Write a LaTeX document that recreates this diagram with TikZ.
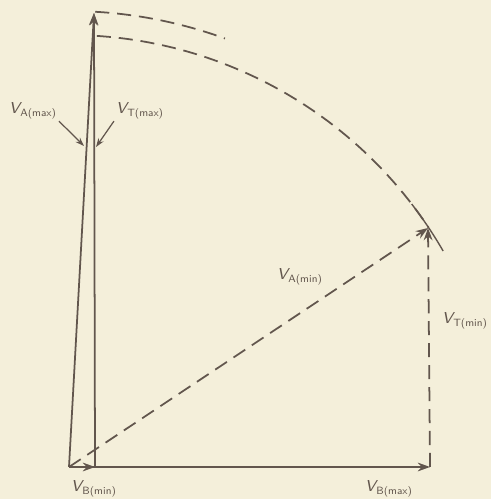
\documentclass[tikz,border=0pt]{standalone}
\usetikzlibrary{arrows.meta}
\definecolor{paper}{HTML}{F4EFDA}
\definecolor{ink}{HTML}{62564D}
\tikzset{
  vec/.style={draw=ink, line width=1pt, -{Stealth[length=7pt,width=5pt]}},
  dashvec/.style={vec, dash pattern=on 8pt off 4.5pt},
  dasharc/.style={draw=ink, line width=1pt, dash pattern=on 8pt off 4.5pt},
  lab/.style={text=ink, font=\sffamily\small, inner sep=1pt},
  leader/.style={draw=ink, line width=0.7pt, -{Stealth[length=5pt,width=3.5pt]}}
}
\newcommand{\vname}[1]{\textit{V}\kern-1pt\textsubscript{#1}}
\begin{document}
\begin{tikzpicture}[x=0.02cm, y=0.02cm]
  \fill[paper] (0,0) rectangle (491,499);
  \useasboundingbox (0,0) rectangle (491,499);
  % Punkte
  \coordinate (O) at (69,32);
  \coordinate (Bmin) at (95,32);
  \coordinate (Bmax) at (430,32);
  \coordinate (Ttop) at (94,486);
  \coordinate (Tmin) at (428,271);
  \coordinate (hitA) at (84,353);
  \coordinate (hitT) at (96,352);

  % Kreisboegen um O
  \draw[dasharc] (O) ++(86.7:456) arc[start angle=86.7, end angle=70, radius=456];
  \draw[dasharc] (O) ++(86.3:432) arc[start angle=86.3, end angle=33.7, radius=432];
  \draw[draw=ink, line width=0.8pt] (O) ++(37.5:432) arc[start angle=37.5, end angle=30, radius=432];

  % Vektoren
  \draw[vec] (O) -- (Bmax);
  \draw[vec] (O) -- (Bmin);
  \draw[vec] (O) -- (Ttop);
  \draw[vec] (Bmin) -- (Ttop);
  \draw[dashvec] (O) -- (Tmin);
  \draw[dashvec] (Bmax) -- (Tmin);

  % Beschriftungen
  \node[lab] (VAmax) at (33,388) {\vname{A(max)}};
  \node[lab] (VTmax) at (140,388) {\vname{T(max)}};
  \node[lab] (VAmin) at (300,222) {\vname{A(min)}};
  \node[lab, anchor=east] (VTmin) at (490,178) {\vname{T(min)}};
  \node[lab] (VBmin) at (94,10) {\vname{B(min)}};
  \node[lab] (VBmax) at (389,10) {\vname{B(max)}};

  \draw[leader] (VAmax.south east) -- (hitA);
  \draw[leader] (VTmax.south west) -- (hitT);
\end{tikzpicture}
\end{document}
